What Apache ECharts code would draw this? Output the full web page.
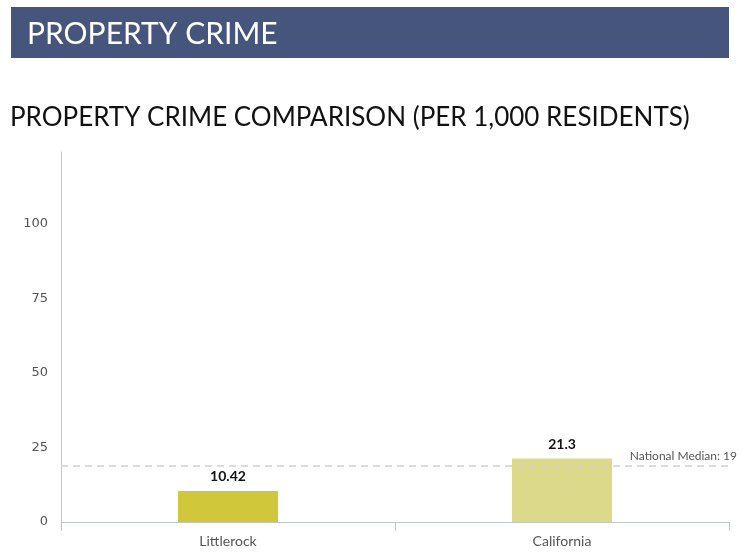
<!DOCTYPE html>
<html>
<head>
<meta charset="utf-8">
<script src="https://cdn.jsdelivr.net/npm/echarts@6/dist/echarts.min.js"></script>
<style>
html,body{margin:0;padding:0;background:#fff;}
#chart{width:742px;height:555px;}
</style>
</head>
<body>
<div id="chart"></div>
<script>
var headerText = 'PROPERTY CRIME';
var chartTitle = 'PROPERTY CRIME COMPARISON (PER 1,000 RESIDENTS)';
var categories = ['Littlerock', 'California'];
var values = [10.42, 21.3];
var barColors = ['#d0c83a', '#dcd98a'];
var medianValue = 19;
var medianLabel = 'National Median: 19';
var yTicks = [0, 25, 50, 75, 100];

var chart = echarts.init(document.getElementById('chart'));
chart.setOption({
  animation: false,
  graphic: [
    {type: 'rect', shape: {x: 11, y: 7, width: 718, height: 51}, style: {fill: '#45557b'}},
    {type: 'text', x: 27, y: 34, style: {text: headerText, fill: '#ffffff', font: '30px Lato', textVerticalAlign: 'middle'}},
    {type: 'text', x: 10, y: 118, style: {text: chartTitle, fill: '#111111', font: '26px Lato', textVerticalAlign: 'middle'}}
  ],
  grid: {left: 61, right: 13, top: 152, bottom: 33},
  xAxis: {
    type: 'category',
    data: categories,
    axisLine: {lineStyle: {color: '#bcc6cb'}},
    axisTick: {show: true, lineStyle: {color: '#bcc6cb'}, length: 9},
    axisLabel: {color: '#555555', fontFamily: 'Lato', fontSize: 14, margin: 12}
  },
  yAxis: {
    type: 'value',
    min: 0,
    max: 124,
    interval: 25,
    axisLine: {show: true, lineStyle: {color: '#bcc6cb'}},
    axisTick: {show: false},
    splitLine: {show: false},
    axisLabel: {
      color: '#555555', fontFamily: 'DejaVu Sans', fontSize: 13, margin: 13,
      formatter: function (v) { return yTicks.indexOf(v) >= 0 ? String(v) : ''; }
    }
  },
  series: [{
    type: 'bar',
    barWidth: 100,
    data: values.map(function (v, i) { return {value: v, itemStyle: {color: barColors[i]}}; }),
    label: {show: true, position: 'top', color: '#111111', fontFamily: 'Lato', fontWeight: 'bold', fontSize: 14, distance: 7},
    markLine: {
      silent: true,
      symbol: 'none',
      z: 10,
      lineStyle: {type: [7, 5], color: '#d0d0d0', width: 1.5},
      label: {show: true, position: 'insideEndTop', formatter: medianLabel, color: '#555555', fontFamily: 'Lato', fontSize: 12, distance: [-8, 3]},
      data: [{yAxis: medianValue}]
    }
  }]
});
</script>
</body>
</html>
